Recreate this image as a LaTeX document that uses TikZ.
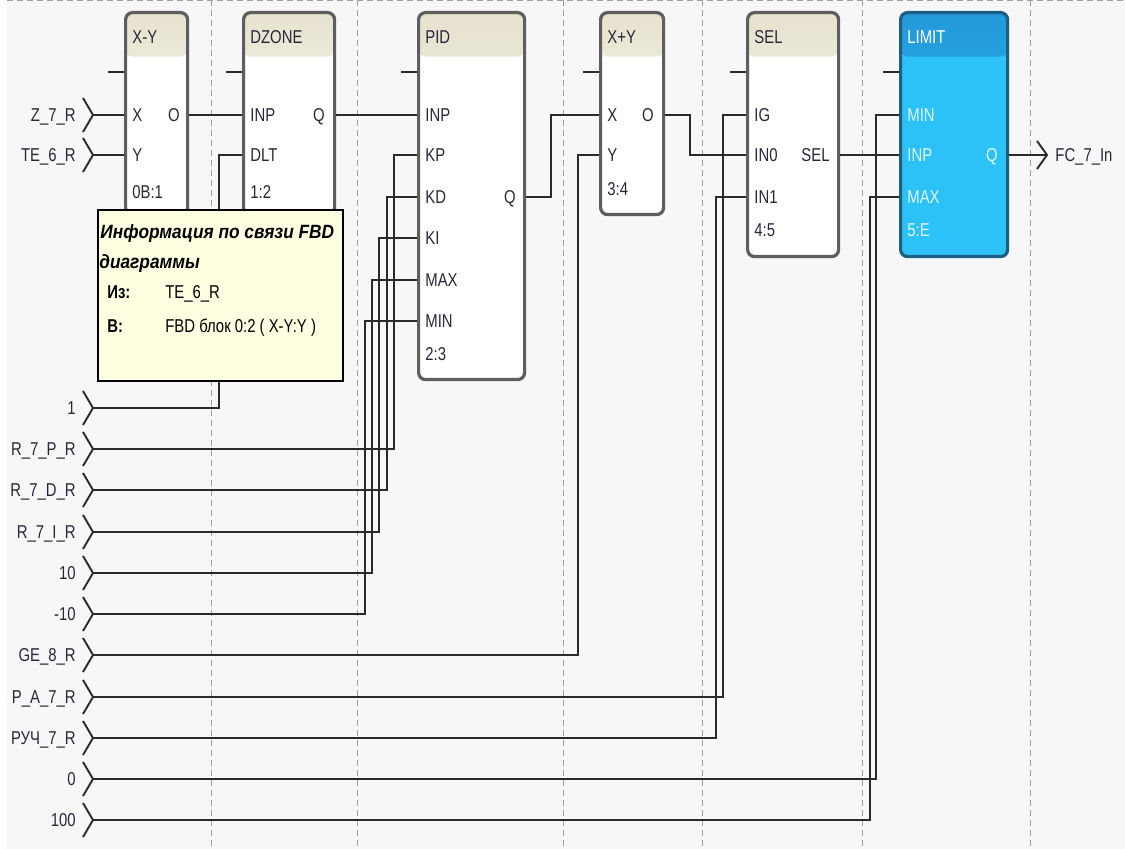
\documentclass[tikz,border=0pt]{standalone}
\usepackage{fontspec}
\setmainfont{Liberation Sans}[FakeStretch=0.8]
\newfontfamily\tiptitle{Liberation Sans}[FakeStretch=0.9]
\newcommand\fbdsize{\fontsize{9.3}{11}\selectfont}
\usetikzlibrary{positioning,calc}

\definecolor{bg}{HTML}{F7F7F7}
\definecolor{gridc}{HTML}{9E9E9E}
\definecolor{frame}{HTML}{5E5E5E}
\definecolor{hdr}{HTML}{E6E2CE}
\definecolor{ink}{HTML}{2A2638}
\definecolor{wirec}{HTML}{2A2A2A}
\definecolor{limfill}{HTML}{2CC2F8}
\definecolor{limhdr}{HTML}{2399D9}
\definecolor{limframe}{HTML}{1C5F80}
\definecolor{limtext}{HTML}{E2F5FF}
\definecolor{tipfill}{HTML}{FFFFE1}

\tikzset{
  wire/.style={draw=wirec, line width=0.95pt},
  gridline/.style={draw=gridc, line width=0.5pt, dash pattern=on 3pt off 2pt},
  fbd/.style={draw=frame, line width=1.6pt, rounded corners=3.5pt, fill=white,
    anchor=north west, inner sep=0pt,
    path picture={\shade[top color=hdr, bottom color=white]
      (path picture bounding box.north west) rectangle
      ([yshift=-22pt]path picture bounding box.north east);}},
  fbdlim/.style={fbd, draw=limframe, fill=limfill,
    path picture={\shade[top color=limhdr, bottom color=limfill]
      (path picture bounding box.north west) rectangle
      ([yshift=-22pt]path picture bounding box.north east);}},
  lbl/.style={inner sep=0pt, text=ink, font=\fbdsize, text height=6.6pt, text depth=0pt},
  pinlbl/.style={lbl, anchor=west},
  pinr/.style={lbl, anchor=east},
  inlbl/.style={lbl, anchor=east},
  tipbox/.style={draw=black, line width=0.8pt, fill=tipfill, anchor=north west, inner sep=0pt}
}

\begin{document}
\begin{tikzpicture}[x=0.5pt, y=-0.5pt]
\useasboundingbox (0,0) rectangle (1125,849);
\fill[bg] (0,0) rectangle (1125,849);
\fill[white] (0,0) rectangle (7,849);
\foreach \gx in {211,357,563,702,862,1030}
  \draw[gridline] (\gx,0) -- (\gx,849);
\draw[gridline] (7,1) -- (1125,1);

\node[fbd, minimum width=31pt, minimum height=101pt] (xy) at (124,11) {};
\node[pinlbl] at (132,37) {X-Y};
\node[pinlbl] (xy-x) at (132,115) {X};
\node[pinlbl] (xy-y) at (132,155) {Y};
\node[pinlbl] at (132,192) {0B:1};
\node[pinr] (xy-o) at (180,115) {O};

\node[fbd, minimum width=45.5pt, minimum height=101pt] (dz) at (242,11) {};
\node[pinlbl] at (250,37) {DZONE};
\node[pinlbl] (dz-inp) at (250,115) {INP};
\node[pinlbl] (dz-dlt) at (250,155) {DLT};
\node[pinlbl] at (250,192) {1:2};
\node[pinr] (dz-q) at (325,115) {Q};

\node[fbd, minimum width=53pt, minimum height=183.5pt] (pid) at (417,11) {};
\node[pinlbl] at (425,37) {PID};
\node[pinlbl] (pid-inp) at (425,115) {INP};
\node[pinlbl] (pid-kp) at (425,155) {KP};
\node[pinlbl] (pid-kd) at (425,197) {KD};
\node[pinlbl] (pid-ki) at (425,238) {KI};
\node[pinlbl] (pid-max) at (425,280) {MAX};
\node[pinlbl] (pid-min) at (425,321) {MIN};
\node[pinlbl] at (425,354) {2:3};
\node[pinr] (pid-q) at (516,197) {Q};

\node[fbd, minimum width=31.5pt, minimum height=101pt] (xpy) at (599,11) {};
\node[pinlbl] at (607,37) {X+Y};
\node[pinlbl] (xpy-x) at (607,115) {X};
\node[pinlbl] (xpy-y) at (607,155) {Y};
\node[pinlbl] at (607,189) {3:4};
\node[pinr] (xpy-o) at (654,115) {O};

\node[fbd, minimum width=45.5pt, minimum height=122pt] (sel) at (746,11) {};
\node[pinlbl] at (754,37) {SEL};
\node[pinlbl] (sel-ig) at (754,115) {IG};
\node[pinlbl] (sel-in0) at (754,155) {IN0};
\node[pinlbl] (sel-in1) at (754,197) {IN1};
\node[pinlbl] at (754,230) {4:5};
\node[pinr] (sel-sel) at (830,155) {SEL};

\node[fbdlim, minimum width=53.5pt, minimum height=122pt] (lim) at (899,11) {};
\node[pinlbl, text=white] at (907,37) {LIMIT};
\node[pinlbl, text=limtext] (lim-min) at (907,115) {MIN};
\node[pinlbl, text=limtext] (lim-inp) at (907,155) {INP};
\node[pinlbl, text=limtext] (lim-max) at (907,197) {MAX};
\node[pinlbl, text=limtext] at (907,230) {5:E};
\node[pinr, text=limtext] (lim-q) at (998,155) {Q};

\foreach \b in {xy,dz,pid,xpy,sel,lim}
  \draw[wire] (\b.north west) ++(0,61) -- ++(-16,0);

\foreach \n/\t/\y in {z7/Z\_7\_R/115, te6/TE\_6\_R/155, one/1/408,
    rp/R\_7\_P\_R/449, rd/R\_7\_D\_R/490, ri/R\_7\_I\_R/532, ten/10/573,
    mten/-10/614, ge8/GE\_8\_R/655, pa7/P\_A\_7\_R/697, ruch/РУЧ\_7\_R/738,
    zero/0/779, hund/100/820}{
  \coordinate (\n) at (93,\y);
  \node[inlbl] (\n-l) at (76,\y) {\t};
  \draw[wire] ($(\n)+(-10,-17)$) -- (\n) -- ($(\n)+(-10,17)$);
}

\draw[wire] (z7) -- (xy.west |- xy-x);
\draw[wire] (te6) -- (xy.west |- xy-y);
\draw[wire] (xy.east |- xy-o) -- (dz.west |- dz-inp);
\draw[wire] (one) -| ($(dz.west |- dz-dlt)+(-23,0)$) -- (dz.west |- dz-dlt);
\draw[wire] (dz.east |- dz-q) -- (pid.west |- pid-inp);
\draw[wire] (rp) -| ($(pid.west |- pid-kp)+(-23,0)$) -- (pid.west |- pid-kp);
\draw[wire] (rd) -| ($(pid.west |- pid-kd)+(-30,0)$) -- (pid.west |- pid-kd);
\draw[wire] (ri) -| ($(pid.west |- pid-ki)+(-38,0)$) -- (pid.west |- pid-ki);
\draw[wire] (ten) -| ($(pid.west |- pid-max)+(-45,0)$) -- (pid.west |- pid-max);
\draw[wire] (mten) -| ($(pid.west |- pid-min)+(-52,0)$) -- (pid.west |- pid-min);
\draw[wire] (pid.east |- pid-q) -- ++(25,0) |- (xpy.west |- xpy-x);
\draw[wire] (ge8) -| ($(xpy.west |- xpy-y)+(-21,0)$) -- (xpy.west |- xpy-y);
\draw[wire] (xpy.east |- xpy-o) -- ++(25,0) |- (sel.west |- sel-in0);
\draw[wire] (pa7) -| ($(sel.west |- sel-ig)+(-23,0)$) -- (sel.west |- sel-ig);
\draw[wire] (ruch) -| ($(sel.west |- sel-in1)+(-30,0)$) -- (sel.west |- sel-in1);
\draw[wire] (sel.east |- sel-sel) -- (lim.west |- lim-inp);
\draw[wire] (zero) -| ($(lim.west |- lim-min)+(-23,0)$) -- (lim.west |- lim-min);
\draw[wire] (hund) -| ($(lim.west |- lim-max)+(-29,0)$) -- (lim.west |- lim-max);

\coordinate (fc7) at (1047,155);
\draw[wire] (lim.east |- lim-q) -- (fc7);
\draw[wire] ($(fc7)+(-10,-14)$) -- (fc7) -- ($(fc7)+(-10,14)$);
\node[pinlbl] (fc7-l) at (1055,155) {FC\_7\_In};

\node[tipbox, minimum width=122.5pt, minimum height=85.5pt] (info) at (97,209) {};
\node[pinlbl, text=black, font=\tiptitle\fontsize{9.6}{11}\selectfont\bfseries\itshape] at (100,232) {Информация по связи FBD};
\node[pinlbl, text=black, font=\tiptitle\fontsize{9.6}{11}\selectfont\bfseries\itshape] at (99,262) {диаграммы};
\node[pinlbl, text=black, font=\fbdsize\bfseries] at (107,292) {Из:};
\node[pinlbl, text=black] at (165,292) {TE\_6\_R};
\node[pinlbl, text=black, font=\fbdsize\bfseries] at (107,326) {В:};
\node[pinlbl, text=black] at (165,326) {FBD блок 0:2 ( X-Y:Y )};
\end{tikzpicture}
\end{document}
